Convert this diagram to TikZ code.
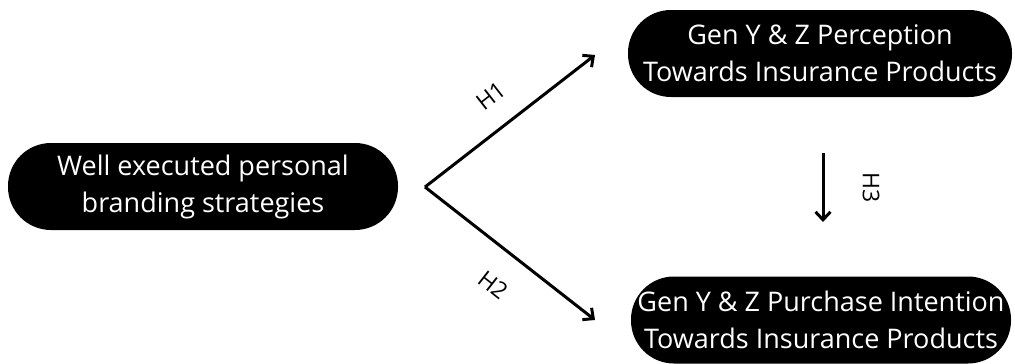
\documentclass[tikz,border=0pt]{standalone}
\usepackage{fontspec}
\setmainfont{Open Sans}
\usetikzlibrary{arrows.meta}
\begin{document}
\begin{tikzpicture}[x=1pt,y=-1pt,
  pill/.style={fill=black,text=white,rounded corners=43pt,minimum height=87pt,
    inner sep=0pt,align=center,font=\fontsize{27}{37}\selectfont},
  link/.style={line width=3pt,-{Straight Barb[length=8pt,width=15pt,line width=3pt]}},
  hlab/.style={font=\fontsize{23}{26}\selectfont}]
\useasboundingbox[fill=white] (0,0) rectangle (1015,364);
\node[pill,minimum width=390pt] (src) at (203,186.5) {Well executed personal\\branding strategies};
\node[pill,minimum width=384pt] (perc) at (820,53.5) {Gen Y \& Z Perception\\Towards Insurance Products};
\node[pill,minimum width=380pt] (pint) at (821,320) {Gen Y \& Z Purchase Intention\\Towards Insurance Products};
\coordinate (v) at (425,187);
\coordinate (t1) at (595,55);
\coordinate (t2) at (595,320);
\coordinate (h3a) at (823,153);
\coordinate (h3b) at (823,222);
\draw[link] (v) -- (t1);
\draw[link] (v) -- (t2);
\draw[link] (h3a) -- (h3b);
\node[hlab,rotate=38] (l1) at (491,96) {H1};
\node[hlab,rotate=-38] (l2) at (493,285) {H2};
\node[hlab,rotate=-90] (l3) at (871,188) {H3};
\end{tikzpicture}
\end{document}
